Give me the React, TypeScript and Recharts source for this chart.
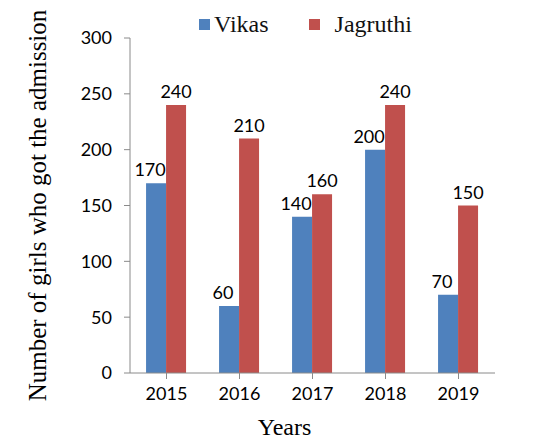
import { BarChart, Bar, XAxis, YAxis, LabelList, Legend } from 'recharts';

const years = ['2015', '2016', '2017', '2018', '2019'];
const vikas = [170, 60, 140, 200, 70];
const jagruthi = [240, 210, 160, 240, 150];
const yTicks = [0, 50, 100, 150, 200, 250, 300];

const data = years.map((year, i) => ({ year, vikas: vikas[i], jagruthi: jagruthi[i] }));

const serif = '"Liberation Serif", "Times New Roman", serif';
const sans = 'Lato, "Open Sans", sans-serif';

function LegendBox(props: any) {
  const { payload = [] } = props;
  return (
    <div style={{ display: 'flex', alignItems: 'center', fontFamily: serif, fontSize: 24, color: '#111', lineHeight: '28px' }}>
      {payload.map((p: any, i: number) => (
        <div key={p.value} style={{ display: 'flex', alignItems: 'center', marginRight: i === 0 ? 40 : 0 }}>
          <span style={{ width: 11, height: 11, background: p.color, display: 'inline-block', marginRight: i === 0 ? 4 : 15 }} />
          <span>{p.value}</span>
        </div>
      ))}
    </div>
  );
}

export default function App() {
  return (
    <div style={{ position: 'absolute', left: 0, top: 0, width: 547, height: 439, background: '#fff' }}>
      <BarChart
        width={547}
        height={439}
        data={data}
        margin={{ top: 38, right: 52, left: 0, bottom: 0 }}
        barCategoryGap="22%"
        barGap={0}
      >
        <XAxis
          dataKey="year"
          height={66}
          stroke="#8a8a8a"
          tickSize={6}
          tickMargin={8}
          tick={{ fill: '#000', fontSize: 18, fontFamily: sans }}
          interval={0}
          label={{ value: 'Years', position: 'insideBottom', offset: 4, dx: -28, fill: '#000', fontSize: 24, fontFamily: serif }}
        />
        <YAxis
          domain={[0, 300]}
          ticks={yTicks}
          width={130}
          stroke="#8a8a8a"
          tickSize={6}
          tickMargin={12}
          tick={{ fill: '#000', fontSize: 18, fontFamily: sans }}
          label={{ value: 'Number of girls who got the admission', angle: -90, position: 'center', dx: -28, fill: '#000', fontSize: 25, fontFamily: serif }}
        />
        <Legend
          layout="horizontal"
          verticalAlign="middle"
          align="center"
          itemSorter={null}
          content={<LegendBox />}
          wrapperStyle={{ top: 10, left: 199, width: 'auto' }}
        />
        <Bar dataKey="vikas" name="Vikas" fill="#4F81BD" isAnimationActive={false}>
          <LabelList dataKey="vikas" position="top" offset={7} dx={-6} fill="#000" fontSize={18} fontFamily={sans} />
        </Bar>
        <Bar dataKey="jagruthi" name="Jagruthi" fill="#C0504D" isAnimationActive={false}>
          <LabelList dataKey="jagruthi" position="top" offset={7} fill="#000" fontSize={18} fontFamily={sans} />
        </Bar>
      </BarChart>
    </div>
  );
}
